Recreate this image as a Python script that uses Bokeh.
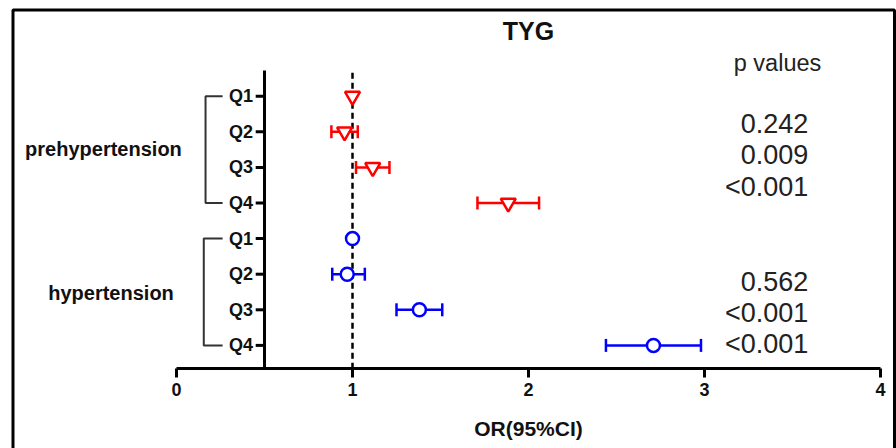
import math
from bokeh.plotting import figure
from bokeh.models import Range1d, FixedTicker, ColumnDataSource
from bokeh.core.properties import value
from bokeh.embed import file_html
from bokeh.resources import INLINE

nan = float("nan")

# ---------------- data ----------------
title_text = "TYG"
x_label = "OR(95%CI)"
p_header = "p values"
groups = ["prehypertension", "hypertension"]
quartiles = ["Q1", "Q2", "Q3", "Q4"]
x_ticks = [0, 1, 2, 3, 4]

pre_or = [1.00, 0.955, 1.115, 1.885]
pre_lo = [nan, 0.88, 1.02, 1.71]
pre_hi = [nan, 1.03, 1.21, 2.06]
pre_p = ["0.242", "0.009", "<0.001"]

hyp_or = [1.00, 0.97, 1.38, 2.71]
hyp_lo = [nan, 0.885, 1.25, 2.44]
hyp_hi = [nan, 1.07, 1.51, 2.98]
hyp_p = ["0.562", "<0.001", "<0.001"]

# ---------------- layout ----------------
FONT = "Liberation Sans"
RED = "#ff0000"
BLUE = "#0000ff"
W, H = 896, 448
pre_rows = [8, 7, 6, 5]
hyp_rows = [4, 3, 2, 1]
x0_px, x_unit = 176.0, 176.0       # pixel of x=0 and pixels per unit
row1_px, row_step = 95.7, 35.6      # pixel of top row and row spacing
x_start, x_end = -x0_px / x_unit, (W - x0_px) / x_unit
y_end = pre_rows[0] + row1_px / row_step
y_start = pre_rows[0] - (H - row1_px) / row_step
x_axis_y = 0.343
axis_x = 0.5
axis_top = 8.72
pre_p_y = [7.23, 6.36, 5.46]
hyp_p_y = [2.79, 1.92, 1.03]
p_x = 3.59

p = figure(width=W, height=H, output_backend="svg", toolbar_location=None,
           x_range=Range1d(x_start, x_end), y_range=Range1d(y_start, y_end),
           y_axis_location=None, min_border=0)
p.outline_line_color = None
p.grid.visible = False
p.background_fill_color = "white"
p.border_fill_color = "white"

xa = p.xaxis[0]
xa.fixed_location = x_axis_y
xa.bounds = (x_ticks[0], x_ticks[-1])
xa.ticker = FixedTicker(ticks=x_ticks, minor_ticks=[])
xa.axis_line_width = 3
xa.axis_line_color = "black"
xa.major_tick_line_width = 3
xa.major_tick_out = 9
xa.major_tick_in = 0
xa.minor_tick_line_color = None
xa.major_label_text_font = FONT
xa.major_label_text_font_style = "bold"
xa.major_label_text_font_size = "18px"
xa.major_label_text_color = "#111111"
xa.major_label_standoff = 5

# x axis title
p.text(x=[2], y=[-1.334], text=[x_label], text_align="center", text_baseline="middle",
       text_font=value(FONT), text_font_style="bold", text_font_size="21px", text_color="#111111")

# reference line at OR = 1
p.segment(x0=[1], y0=[x_axis_y], x1=[1], y1=[axis_top], line_color="black",
          line_width=2.5, line_dash="6 4")

# y axis at x = 0.5
all_rows = pre_rows + hyp_rows
p.segment(x0=[axis_x], y0=[x_axis_y], x1=[axis_x], y1=[axis_top], line_color="black", line_width=3)
p.segment(x0=[axis_x - 0.05] * 8, y0=all_rows, x1=[axis_x] * 8, y1=all_rows,
          line_color="black", line_width=3)
p.text(x=[axis_x - 0.065] * 8, y=all_rows, text=quartiles + quartiles,
       text_align="right", text_baseline="middle", text_font=value(FONT),
       text_font_style="bold", text_font_size="18px", text_color="#111111")

# brackets
for rows, bx in ((pre_rows, 0.165), (hyp_rows, 0.155)):
    top, bot = rows[0], rows[-1]
    p.line(x=[0.262, bx, bx, 0.262], y=[top, top, bot, bot], line_color="#333333", line_width=2)

# group labels
p.text(x=[-0.415, -0.372], y=[6.53, 2.46], text=groups, text_align="center",
       text_baseline="middle", text_font=value(FONT), text_font_style="bold",
       text_font_size="20px", text_color="#111111")

# error bars & markers
def series(or_, lo, hi, rows, color, marker, size):
    src = ColumnDataSource(dict(y=rows, m=or_, lo=lo, hi=hi))
    p.segment(x0="lo", y0="y", x1="hi", y1="y", source=src, line_color=color, line_width=2.5)
    p.scatter(x="lo", y="y", source=src, marker="dash", angle=math.pi / 2, size=13,
              line_color=color, line_width=2.5)
    p.scatter(x="hi", y="y", source=src, marker="dash", angle=math.pi / 2, size=13,
              line_color=color, line_width=2.5)
    p.scatter(x="m", y="y", source=src, marker=marker, size=size, fill_color="white",
              line_color=color, line_width=2.5)

series(pre_or, pre_lo, pre_hi, pre_rows, RED, "inverted_triangle", 15)
series(hyp_or, hyp_lo, hyp_hi, hyp_rows, BLUE, "circle", 13)

# title, p values
p.text(x=[2], y=[9.845], text=[title_text], text_align="center", text_baseline="middle",
       text_font=value(FONT), text_font_style="bold", text_font_size="25px", text_color="#111111")
p.text(x=[3.415], y=[8.92], text=[p_header], text_align="center", text_baseline="middle",
       text_font=value(FONT), text_font_size="23.5px", text_color="#222222")
p.text(x=[p_x] * 6, y=pre_p_y + hyp_p_y, text=pre_p + hyp_p, text_align="right",
       text_baseline="middle", text_font=value(FONT), text_font_size="27px", text_color="#222222")

# outer frame (left, top, right edges)
bl, bt, br = -0.929, 10.421, 4.0795
p.line(x=[bl, bl, br, br], y=[y_start - 1, bt, bt, y_start - 1], line_color="black", line_width=3)

open("out.html", "w").write(file_html(p, INLINE))
